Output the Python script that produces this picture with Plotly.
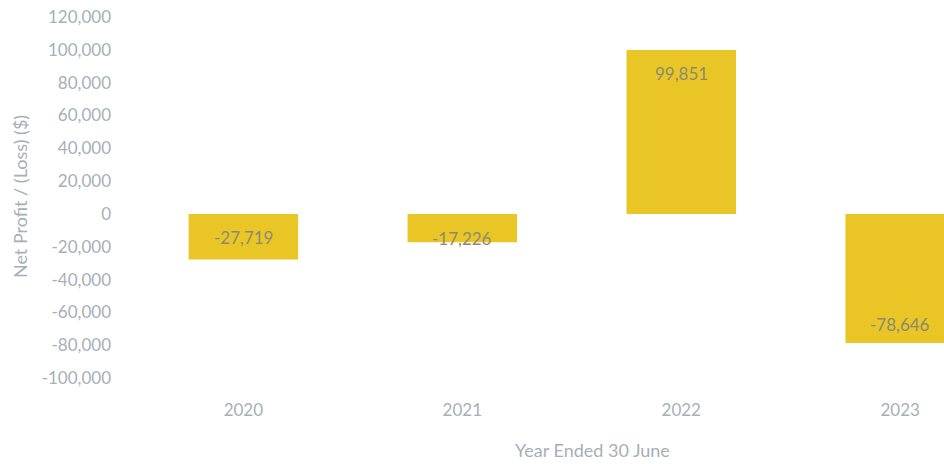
import plotly.graph_objects as go

# ---- data ----
years = ["2020", "2021", "2022", "2023"]
net_profit = [-27719, -17226, 99851, -78646]
y_ticks = [-100000, -80000, -60000, -40000, -20000, 0, 20000, 40000, 60000, 80000, 100000, 120000]
y_tick_labels = [f"{v:,}" for v in y_ticks]
bar_labels = [f"{v:,}" for v in net_profit]

# ---- style ----
BAR = "#EAC526"
TICK = "#a7afb7"
LABEL = "#8c8b70"
FONT = "Lato, 'Open Sans', sans-serif"
label_shift = [22, 4, 23, 18]  # px from bar end toward base

fig = go.Figure(go.Bar(
    x=years, y=net_profit, marker=dict(color=BAR, line=dict(width=0)),
    hoverinfo="skip",
))

for i, (v, t, s) in enumerate(zip(net_profit, bar_labels, label_shift)):
    fig.add_annotation(
        x=i, y=v, xref="x", yref="y", text=t, showarrow=False,
        yshift=s if v < 0 else -s,
        font=dict(family=FONT, size=17, color=LABEL),
    )

fig.add_annotation(
    text="Year Ended 30 June", xref="paper", yref="paper",
    x=0.577, y=-0.2, xanchor="center", yanchor="middle", showarrow=False,
    font=dict(family=FONT, size=18, color=TICK),
)
fig.add_annotation(
    text="Net Profit / (Loss) ($)", xref="paper", yref="paper",
    x=-0.1106, y=0.504, xanchor="center", yanchor="middle",
    textangle=-90, showarrow=False,
    font=dict(family=FONT, size=18, color=TICK),
)

fig.update_layout(
    width=944, height=464,
    margin=dict(l=112, r=0, t=17, b=86),
    paper_bgcolor="white", plot_bgcolor="white",
    bargap=0.5, showlegend=False,
    font=dict(family=FONT, color=TICK),
)
fig.update_xaxes(
    type="category", range=[-0.6, 3.2], showgrid=False, zeroline=False,
    showline=False, ticks="", ticklabelstandoff=20,
    tickfont=dict(family=FONT, size=17, color=TICK),
)
fig.update_yaxes(
    range=[-100000, 120000], tickvals=y_ticks, ticktext=y_tick_labels,
    showgrid=False, zeroline=False, showline=False, ticks="",
    tickfont=dict(family=FONT, size=17, color=TICK),
)

fig.write_html(
    "out.html",
    config={"displayModeBar": False},
    post_script="document.body.style.margin='0';document.body.style.overflow='hidden';",
)
